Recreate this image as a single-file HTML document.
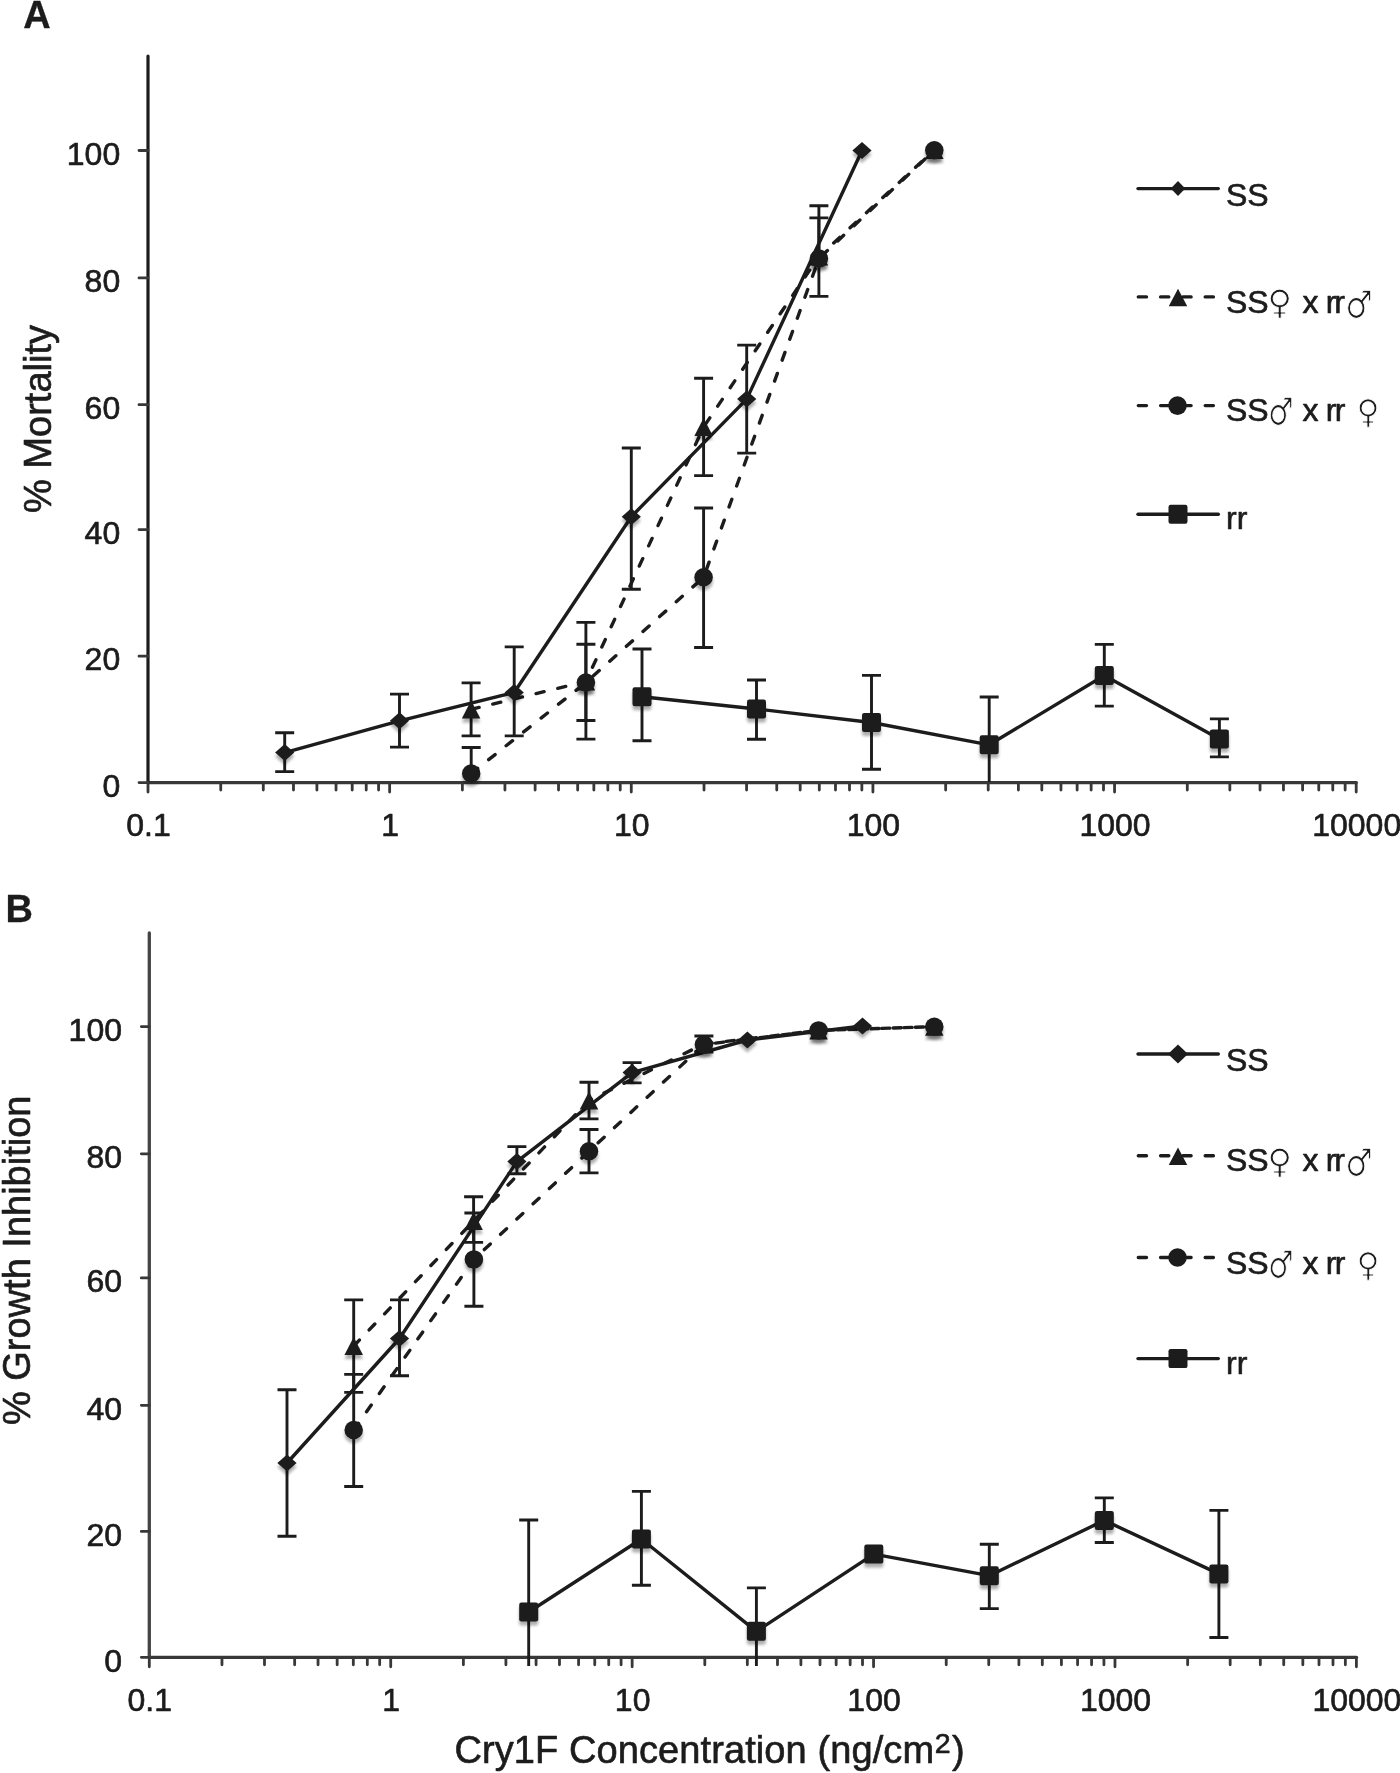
<!DOCTYPE html>
<html lang="en">
<head>
<meta charset="utf-8">
<title>Cry1F concentration response: mortality and growth inhibition</title>
<style>
html,body{margin:0;padding:0;background:#fff;}
body{width:1400px;height:1773px;overflow:hidden;}
svg{display:block;filter:blur(0.55px);}
text{font-family:"Liberation Sans", "DejaVu Sans", sans-serif;fill:#1c1c1c;stroke:#1c1c1c;stroke-width:0.65px;stroke-linejoin:round;}
.pl{stroke-width:0.3px;}
.pl{font-size:38px;font-weight:bold;}
.at{font-size:38px;}
.tl{font-size:32px;}
.lg{font-size:32px;}
.sy{font-family:"DejaVu Sans", "Liberation Sans", sans-serif;stroke:#fff;stroke-width:0.9px;}
.axA{fill:none;stroke:#1c1c1c;stroke-width:3.2;stroke-linecap:round;stroke-linejoin:round;}
.axB{fill:none;stroke:#444;stroke-width:3.3;stroke-linecap:round;stroke-linejoin:round;}
.xa{stroke:#383838;}
.tk{stroke-width:2.8;stroke:#383838;}
.eb{fill:none;stroke:#1c1c1c;stroke-width:2.9;stroke-linecap:butt;}
.ln{fill:none;stroke:#1c1c1c;stroke-width:3.4;stroke-linecap:round;stroke-linejoin:round;}
.ds{stroke-dasharray:8.2 14.1;}
.mk{fill:#1c1c1c;stroke:none;}
.sh{filter:url(#ds);}
</style>
</head>
<body>
<svg width="1400" height="1773" viewBox="0 0 1400 1773">
<defs>
<filter id="ds" x="-40%" y="-40%" width="180%" height="200%">
<feGaussianBlur in="SourceAlpha" stdDeviation="1.5" result="b"/>
<feOffset in="b" dx="0.3" dy="3.8" result="o"/>
<feComponentTransfer in="o" result="s"><feFuncA type="linear" slope="0.32"/></feComponentTransfer>
<feMerge><feMergeNode in="s"/><feMergeNode in="SourceGraphic"/></feMerge>
</filter>
</defs>
<rect width="1400" height="1773" fill="#fff"/>
<g id="chartA">
<text class="pl" x="23.2" y="28">A</text>
<text class="at" text-anchor="middle" transform="translate(50.5 419) rotate(-90)">% Mortality</text>
<path class="axA xa" d="M148 782.6H1356.2"/>
<path class="axA" d="M148 56V782.6"/>
<path class="axA tk" d="M139 150.5H148M139 277.9H148M139 404.7H148M139 529.6H148M139 656.2H148M139 782.6H148"/>
<path class="axA tk" d="M148 782.6V792.1M220.74 782.6V790.1M263.29 782.6V790.1M293.48 782.6V790.1M316.9 782.6V790.1M336.03 782.6V790.1M352.21 782.6V790.1M366.22 782.6V790.1M378.58 782.6V790.1M389.64 782.6V792.1M462.38 782.6V790.1M504.93 782.6V790.1M535.12 782.6V790.1M558.54 782.6V790.1M577.67 782.6V790.1M593.85 782.6V790.1M607.86 782.6V790.1M620.22 782.6V790.1M631.28 782.6V792.1M704.02 782.6V790.1M746.57 782.6V790.1M776.76 782.6V790.1M800.18 782.6V790.1M819.31 782.6V790.1M835.49 782.6V790.1M849.5 782.6V790.1M861.86 782.6V790.1M872.92 782.6V792.1M945.66 782.6V790.1M988.21 782.6V790.1M1018.4 782.6V790.1M1041.82 782.6V790.1M1060.95 782.6V790.1M1077.13 782.6V790.1M1091.14 782.6V790.1M1103.5 782.6V790.1M1114.56 782.6V792.1M1187.3 782.6V790.1M1229.85 782.6V790.1M1260.04 782.6V790.1M1283.46 782.6V790.1M1302.59 782.6V790.1M1318.77 782.6V790.1M1332.78 782.6V790.1M1345.14 782.6V790.1M1356.2 782.6V792.1"/>
<text class="tl" text-anchor="end" x="120.2" y="164.5">100</text>
<text class="tl" text-anchor="end" x="120.2" y="291.9">80</text>
<text class="tl" text-anchor="end" x="120.2" y="418.7">60</text>
<text class="tl" text-anchor="end" x="120.2" y="543.6">40</text>
<text class="tl" text-anchor="end" x="120.2" y="670.2">20</text>
<text class="tl" text-anchor="end" x="120.2" y="796.6">0</text>
<text class="tl" text-anchor="middle" x="148.5" y="836.1">0.1</text>
<text class="tl" text-anchor="middle" x="390.14" y="836.1">1</text>
<text class="tl" text-anchor="middle" x="631.78" y="836.1">10</text>
<text class="tl" text-anchor="middle" x="873.42" y="836.1">100</text>
<text class="tl" text-anchor="middle" x="1115.06" y="836.1">1000</text>
<text class="tl" text-anchor="middle" x="1356.7" y="836.1">10000</text>
<path class="eb" d="M284.7 732.7V771.6M275.2 732.7H294.2M275.2 771.6H294.2"/>
<path class="eb" d="M399.5 694.1V747.1M390 694.1H409M390 747.1H409"/>
<path class="eb" d="M514.2 646.9V735.9M504.7 646.9H523.7M504.7 735.9H523.7"/>
<path class="eb" d="M631.3 448V589.3M621.8 448H640.8M621.8 589.3H640.8"/>
<path class="eb" d="M746.7 345.1V453.1M737.2 345.1H756.2M737.2 453.1H756.2"/>
<path class="eb" d="M471.1 682.9V735.9M461.6 682.9H480.6M461.6 735.9H480.6"/>
<path class="eb" d="M585.9 622.4V739.1M576.4 622.4H595.4M576.4 739.1H595.4"/>
<path class="eb" d="M703.6 378.2V475.6M694.1 378.2H713.1M694.1 475.6H713.1"/>
<path class="eb" d="M818.9 217.9V296.4M809.4 217.9H828.4M809.4 296.4H828.4"/>
<path class="eb" d="M471.2 747.5V782M461.7 747.5H480.7"/>
<path class="eb" d="M585.9 644.3V720.5M576.4 644.3H595.4M576.4 720.5H595.4"/>
<path class="eb" d="M703.6 508V647.5M694.1 508H713.1M694.1 647.5H713.1"/>
<path class="eb" d="M818.9 205.7V258.6M809.4 205.7H828.4"/>
<path class="eb" d="M642 649V740.7M632.5 649H651.5M632.5 740.7H651.5"/>
<path class="eb" d="M756.5 680V739.2M747 680H766M747 739.2H766"/>
<path class="eb" d="M871.5 675.4V769.2M862 675.4H881M862 769.2H881"/>
<path class="eb" d="M989.2 697V782M979.7 697H998.7"/>
<path class="eb" d="M1104.3 644.4V706.1M1094.8 644.4H1113.8M1094.8 706.1H1113.8"/>
<path class="eb" d="M1219.4 718.9V756.9M1209.9 718.9H1228.9M1209.9 756.9H1228.9"/>
<polyline class="ln" points="284.7,752.6 399.5,720.8 514.2,692.5 631.3,516.7 746.7,399.1 862,150.5"/>
<polyline class="ln ds" points="471.1,709.4 585.9,681.5 703.6,427 818.9,256.6 934.3,150"/>
<polyline class="ln ds" points="471.2,773.5 585.9,682.5 703.6,577.3 818.9,258.6 934.3,150.3"/>
<polyline class="ln" points="642,696.8 756.5,709 871.5,722.5 989.2,744.8 1104.3,675.5 1219.4,738.9"/>
<path class="mk sh" d="M284.7 744.1L294.3 752.6L284.7 761.1L275.1 752.6Z"/>
<path class="mk sh" d="M399.5 712.3L409.1 720.8L399.5 729.3L389.9 720.8Z"/>
<path class="mk sh" d="M514.2 684L523.8 692.5L514.2 701L504.6 692.5Z"/>
<path class="mk sh" d="M631.3 508.2L640.9 516.7L631.3 525.2L621.7 516.7Z"/>
<path class="mk sh" d="M746.7 390.6L756.3 399.1L746.7 407.6L737.1 399.1Z"/>
<path class="mk sh" d="M862 142L871.6 150.5L862 159L852.4 150.5Z"/>
<path class="mk sh" d="M471.1 700.4L480.35 718.4L461.85 718.4Z"/>
<path class="mk sh" d="M585.9 672.5L595.15 690.5L576.65 690.5Z"/>
<path class="mk sh" d="M703.6 418L712.85 436L694.35 436Z"/>
<path class="mk sh" d="M818.9 247.6L828.15 265.6L809.65 265.6Z"/>
<path class="mk sh" d="M934.3 141L943.55 159L925.05 159Z"/>
<circle class="mk sh" cx="471.2" cy="773.5" r="9.25"/>
<circle class="mk sh" cx="585.9" cy="682.5" r="9.25"/>
<circle class="mk sh" cx="703.6" cy="577.3" r="9.25"/>
<circle class="mk sh" cx="818.9" cy="258.6" r="9.25"/>
<circle class="mk sh" cx="934.3" cy="150.3" r="9.25"/>
<rect class="mk sh" x="632.5" y="687.3" width="19" height="19" rx="2.2"/>
<rect class="mk sh" x="747" y="699.5" width="19" height="19" rx="2.2"/>
<rect class="mk sh" x="862" y="713" width="19" height="19" rx="2.2"/>
<rect class="mk sh" x="979.7" y="735.3" width="19" height="19" rx="2.2"/>
<rect class="mk sh" x="1094.8" y="666" width="19" height="19" rx="2.2"/>
<rect class="mk sh" x="1209.9" y="729.4" width="19" height="19" rx="2.2"/>
<path class="ln" d="M1138 188.6H1218.3"/>
<path class="mk" d="M1178 181.1L1185.25 188.6L1178 196.1L1170.75 188.6Z"/>
<text class="lg" x="1226" y="206">SS</text>
<path class="ln ds" d="M1138.3 296.9H1218.3"/>
<path class="mk" d="M1178 288.65L1187.25 306.15L1168.75 306.15Z"/>
<text class="lg" y="313"><tspan x="1226">SS</tspan><tspan x="1302.4">x</tspan><tspan x="1325.8" letter-spacing="-2.2">rr</tspan></text>
<text class="sy" font-size="34" transform="translate(1267.2 314.3) scale(1 1)">♀</text>
<text class="sy" font-size="34" transform="translate(1345.2 318) scale(0.9 1.13)">♂</text>
<path class="ln ds" d="M1138.3 405.6H1218.3"/>
<circle class="mk" cx="1177.5" cy="405.6" r="9.3"/>
<text class="lg" y="421"><tspan x="1226">SS</tspan><tspan x="1302.4">x</tspan><tspan x="1325.8" letter-spacing="-1.8">rr</tspan></text>
<text class="sy" font-size="34" transform="translate(1267.9 425.3) scale(0.84 1.13)">♂</text>
<text class="sy" font-size="33" transform="translate(1356.4 423) scale(0.96 1)">♀</text>
<path class="ln" d="M1138 514.3H1218.3"/>
<rect class="mk" x="1168.5" y="504.8" width="19" height="19" rx="2.2"/>
<text class="lg" x="1226" y="529.4">rr</text>
</g>
<g id="chartB">
<text class="pl" x="5.5" y="922">B</text>
<text class="at" text-anchor="middle" font-size="38.4" transform="translate(30.3 1260.3) rotate(-90)">% Growth Inhibition</text>
<path class="axB xa" d="M149.3 1657.3H1356.4"/>
<path class="axB" d="M149.3 933V1657.3"/>
<path class="axB tk" d="M141.3 1026.6H149.3M141.3 1153.8H149.3M141.3 1277.9H149.3M141.3 1405.3H149.3M141.3 1531.4H149.3M141.3 1657.3H149.3"/>
<path class="axB tk" d="M149.3 1657.3V1666.8M221.97 1657.3V1664.8M264.49 1657.3V1664.8M294.65 1657.3V1664.8M318.05 1657.3V1664.8M337.16 1657.3V1664.8M353.32 1657.3V1664.8M367.32 1657.3V1664.8M379.67 1657.3V1664.8M390.72 1657.3V1666.8M463.39 1657.3V1664.8M505.91 1657.3V1664.8M536.07 1657.3V1664.8M559.47 1657.3V1664.8M578.58 1657.3V1664.8M594.74 1657.3V1664.8M608.74 1657.3V1664.8M621.09 1657.3V1664.8M632.14 1657.3V1666.8M704.81 1657.3V1664.8M747.33 1657.3V1664.8M777.49 1657.3V1664.8M800.89 1657.3V1664.8M820 1657.3V1664.8M836.16 1657.3V1664.8M850.16 1657.3V1664.8M862.51 1657.3V1664.8M873.56 1657.3V1666.8M946.23 1657.3V1664.8M988.75 1657.3V1664.8M1018.91 1657.3V1664.8M1042.31 1657.3V1664.8M1061.42 1657.3V1664.8M1077.58 1657.3V1664.8M1091.58 1657.3V1664.8M1103.93 1657.3V1664.8M1114.98 1657.3V1666.8M1187.65 1657.3V1664.8M1230.17 1657.3V1664.8M1260.33 1657.3V1664.8M1283.73 1657.3V1664.8M1302.84 1657.3V1664.8M1319 1657.3V1664.8M1333 1657.3V1664.8M1345.35 1657.3V1664.8M1356.4 1657.3V1666.8"/>
<text class="tl" text-anchor="end" x="122" y="1041">100</text>
<text class="tl" text-anchor="end" x="122" y="1168.2">80</text>
<text class="tl" text-anchor="end" x="122" y="1292.3">60</text>
<text class="tl" text-anchor="end" x="122" y="1419.7">40</text>
<text class="tl" text-anchor="end" x="122" y="1545.8">20</text>
<text class="tl" text-anchor="end" x="122" y="1671.7">0</text>
<text class="tl" text-anchor="middle" x="149.8" y="1710.8">0.1</text>
<text class="tl" text-anchor="middle" x="391.22" y="1710.8">1</text>
<text class="tl" text-anchor="middle" x="632.64" y="1710.8">10</text>
<text class="tl" text-anchor="middle" x="874.06" y="1710.8">100</text>
<text class="tl" text-anchor="middle" x="1115.48" y="1710.8">1000</text>
<text class="tl" text-anchor="middle" x="1356.9" y="1710.8">10000</text>
<path class="eb" d="M287 1389.8V1536.2M277.5 1389.8H296.5M277.5 1536.2H296.5"/>
<path class="eb" d="M399.5 1299.9V1375.8M390 1299.9H409M390 1375.8H409"/>
<path class="eb" d="M516.9 1146.6V1173.8M507.4 1146.6H526.4M507.4 1173.8H526.4"/>
<path class="eb" d="M632.1 1062.6V1082.9M622.6 1062.6H641.6M622.6 1082.9H641.6"/>
<path class="eb" d="M353.7 1299.9V1392.4M344.2 1299.9H363.2M344.2 1392.4H363.2"/>
<path class="eb" d="M473.6 1196.7V1242.4M464.1 1196.7H483.1M464.1 1242.4H483.1"/>
<path class="eb" d="M589 1082.2V1118.9M579.5 1082.2H598.5M579.5 1118.9H598.5"/>
<path class="eb" d="M703.9 1036V1052M694.4 1036H713.4M694.4 1052H713.4"/>
<path class="eb" d="M353.7 1374.4V1486.5M344.2 1374.4H363.2M344.2 1486.5H363.2"/>
<path class="eb" d="M473.9 1213V1306.2M464.4 1213H483.4M464.4 1306.2H483.4"/>
<path class="eb" d="M589 1129.5V1172.9M579.5 1129.5H598.5M579.5 1172.9H598.5"/>
<path class="eb" d="M528.7 1520V1666M519.2 1520H538.2"/>
<path class="eb" d="M641.4 1491.4V1585.3M631.9 1491.4H650.9M631.9 1585.3H650.9"/>
<path class="eb" d="M756.4 1587.9V1666M746.9 1587.9H765.9"/>
<path class="eb" d="M989.3 1544.3V1608.6M979.8 1544.3H998.8M979.8 1608.6H998.8"/>
<path class="eb" d="M1104.3 1497.9V1542.5M1094.8 1497.9H1113.8M1094.8 1542.5H1113.8"/>
<path class="eb" d="M1218.9 1510.4V1637.5M1209.4 1510.4H1228.4M1209.4 1637.5H1228.4"/>
<polyline class="ln" points="287,1463 399.5,1338.5 516.9,1161.6 632.1,1072.6 747.4,1040 862.5,1026"/>
<polyline class="ln ds" points="353.7,1346 473.6,1221 589,1100.5 703.9,1044 818.6,1030.4 934.3,1026.7"/>
<polyline class="ln ds" points="353.7,1430 473.9,1259.4 589,1151.3 703.9,1044.5 818.6,1030.4 934.3,1026.7"/>
<polyline class="ln" points="528.7,1612 641.4,1539 756.4,1631.3 873.8,1554.1 989.3,1575.7 1104.3,1520.4 1218.9,1573.9"/>
<path class="mk sh" d="M287 1454.5L296.6 1463L287 1471.5L277.4 1463Z"/>
<path class="mk sh" d="M399.5 1330L409.1 1338.5L399.5 1347L389.9 1338.5Z"/>
<path class="mk sh" d="M516.9 1153.1L526.5 1161.6L516.9 1170.1L507.3 1161.6Z"/>
<path class="mk sh" d="M632.1 1064.1L641.7 1072.6L632.1 1081.1L622.5 1072.6Z"/>
<path class="mk sh" d="M747.4 1031.5L757 1040L747.4 1048.5L737.8 1040Z"/>
<path class="mk sh" d="M862.5 1017.5L872.1 1026L862.5 1034.5L852.9 1026Z"/>
<path class="mk sh" d="M353.7 1337L362.95 1355L344.45 1355Z"/>
<path class="mk sh" d="M473.6 1212L482.85 1230L464.35 1230Z"/>
<path class="mk sh" d="M589 1091.5L598.25 1109.5L579.75 1109.5Z"/>
<path class="mk sh" d="M703.9 1035L713.15 1053L694.65 1053Z"/>
<path class="mk sh" d="M818.6 1021.4L827.85 1039.4L809.35 1039.4Z"/>
<path class="mk sh" d="M934.3 1017.7L943.55 1035.7L925.05 1035.7Z"/>
<circle class="mk sh" cx="353.7" cy="1430" r="9.25"/>
<circle class="mk sh" cx="473.9" cy="1259.4" r="9.25"/>
<circle class="mk sh" cx="589" cy="1151.3" r="9.25"/>
<circle class="mk sh" cx="703.9" cy="1044.5" r="9.25"/>
<circle class="mk sh" cx="818.6" cy="1030.4" r="9.25"/>
<circle class="mk sh" cx="934.3" cy="1026.7" r="9.25"/>
<rect class="mk sh" x="519.2" y="1602.5" width="19" height="19" rx="2.2"/>
<rect class="mk sh" x="631.9" y="1529.5" width="19" height="19" rx="2.2"/>
<rect class="mk sh" x="746.9" y="1621.8" width="19" height="19" rx="2.2"/>
<rect class="mk sh" x="864.3" y="1544.6" width="19" height="19" rx="2.2"/>
<rect class="mk sh" x="979.8" y="1566.2" width="19" height="19" rx="2.2"/>
<rect class="mk sh" x="1094.8" y="1510.9" width="19" height="19" rx="2.2"/>
<rect class="mk sh" x="1209.4" y="1564.4" width="19" height="19" rx="2.2"/>
<path class="ln" d="M1138 1054H1218.3"/>
<path class="mk" d="M1178 1044.5L1188 1054L1178 1063.5L1168 1054Z"/>
<text class="lg" x="1226" y="1070.6">SS</text>
<path class="ln ds" d="M1138.3 1155.7H1218.3"/>
<path class="mk" d="M1178 1147.45L1187.25 1164.95L1168.75 1164.95Z"/>
<text class="lg" y="1171.2"><tspan x="1226">SS</tspan><tspan x="1302.4">x</tspan><tspan x="1325.8" letter-spacing="-2.2">rr</tspan></text>
<text class="sy" font-size="34" transform="translate(1267.2 1172.5) scale(1 1)">♀</text>
<text class="sy" font-size="34" transform="translate(1345.2 1176.2) scale(0.9 1.13)">♂</text>
<path class="ln ds" d="M1138.3 1257.5H1218.3"/>
<circle class="mk" cx="1177.5" cy="1257.5" r="9.3"/>
<text class="lg" y="1273.7"><tspan x="1226">SS</tspan><tspan x="1302.4">x</tspan><tspan x="1325.8" letter-spacing="-1.8">rr</tspan></text>
<text class="sy" font-size="34" transform="translate(1267.9 1278) scale(0.84 1.13)">♂</text>
<text class="sy" font-size="33" transform="translate(1356.4 1275.7) scale(0.96 1)">♀</text>
<path class="ln" d="M1138 1358.6H1218.3"/>
<rect class="mk" x="1168.5" y="1349.1" width="19" height="19" rx="2.2"/>
<text class="lg" x="1226" y="1374.3">rr</text>
</g>
<text class="at" x="454.5" y="1763" letter-spacing="0.09">Cry1F Concentration (ng/cm<tspan font-size="28.5" dy="-10.5" dx="0.5">2</tspan><tspan dy="10.5" dx="1.5">)</tspan></text>
</svg>
</body>
</html>
